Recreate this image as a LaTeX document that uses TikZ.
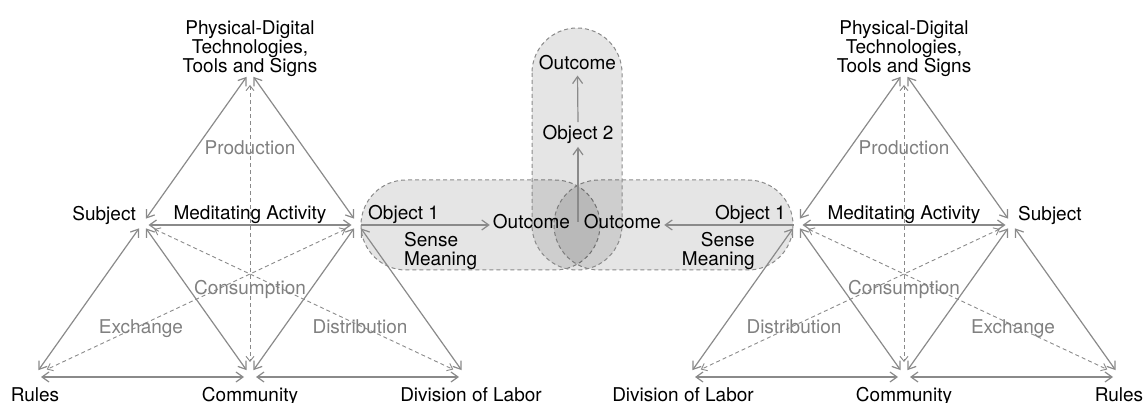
\documentclass[tikz,border=0pt]{standalone}
\usepackage{fontspec}
\setmainfont{TeX Gyre Heros}
\usetikzlibrary{arrows.meta}
\definecolor{lc}{RGB}{138,138,138}
\definecolor{tc}{RGB}{128,128,128}
\begin{document}
\begin{tikzpicture}[x=1pt,y=-1pt,
  font=\fontsize{19}{19}\selectfont,
  bb/.tip={Straight Barb[length=7pt,width=10pt]},
  sb/.tip={Straight Barb[length=5pt,width=8pt]},
  sol/.style={draw=lc,line width=1.2pt,bb-bb,shorten <=6pt,shorten >=6pt},
  dsh/.style={draw=lc,line width=0.9pt,dash pattern=on 4pt off 3pt,sb-sb,shorten <=13pt,shorten >=13pt},
  mid/.style={draw=lc,line width=1.2pt,-bb},
  blob/.style={fill=black,fill opacity=0.1,draw=lc,draw opacity=1,line width=1pt,dash pattern=on 4pt off 3pt,rounded corners=45pt},
  lab/.style={inner sep=0pt,text=black},
  glab/.style={inner sep=0pt,text=tc},
  olab/.style={inner sep=3pt,text=black}]
\useasboundingbox (0,0) rectangle (1146,403);

% shaded regions
\path[blob] (361,180) rectangle (600,270);
\path[blob] (554,180) rectangle (793,270);
\path[blob] (532,28) rectangle (622,270);

% left triangle vertices
\coordinate (T1) at (250,72);
\coordinate (R1) at (35,375);
\coordinate (D1) at (465,375);
\coordinate (S1) at (142.5,223.5);
\coordinate (O1) at (357.5,223.5);
\coordinate (C1) at (250,375);
% right triangle vertices
\coordinate (T2) at (904,72);
\coordinate (R2) at (1119,375);
\coordinate (D2) at (689,375);
\coordinate (S2) at (1011.5,223.5);
\coordinate (O2) at (796.5,223.5);
\coordinate (C2) at (904,375);

% left triangle lines
\draw[sol] (S1) -- (T1);
\draw[sol] (T1) -- (O1);
\draw[sol] ([yshift=-1.5pt]S1) -- ([yshift=-1.5pt]O1);
\draw[sol] (S1) -- (R1);
\draw[sol] (S1) -- (C1);
\draw[sol] (O1) -- (C1);
\draw[sol] (O1) -- (D1);
\draw[sol] ([yshift=-2pt]R1) -- ([yshift=-2pt]C1);
\draw[sol] ([yshift=-2pt]C1) -- ([yshift=-2pt]D1);
\draw[dsh] (T1) -- (C1);
\draw[dsh] (S1) -- (D1);
\draw[dsh] (O1) -- (R1);

% right triangle lines
\draw[sol] (S2) -- (T2);
\draw[sol] (T2) -- (O2);
\draw[sol] ([yshift=-1.5pt]S2) -- ([yshift=-1.5pt]O2);
\draw[sol] (S2) -- (R2);
\draw[sol] (S2) -- (C2);
\draw[sol] (O2) -- (C2);
\draw[sol] (O2) -- (D2);
\draw[sol] ([yshift=-2pt]R2) -- ([yshift=-2pt]C2);
\draw[sol] ([yshift=-2pt]C2) -- ([yshift=-2pt]D2);
\draw[dsh] (T2) -- (C2);
\draw[dsh] (S2) -- (D2);
\draw[dsh] (O2) -- (R2);

% left labels
\node[lab,anchor=base east] (subj1) at (136,220.5) {Subject};
\node[lab,anchor=base] (med1) at (250,220) {Meditating Activity};
\node[lab,anchor=north,align=center] (tools1) at (250,20) {Physical-Digital\\Technologies,\\Tools and Signs};
\node[glab,anchor=base] (prod1) at (250,155) {Production};
\node[glab,anchor=base] (cons1) at (250,294.5) {Consumption};
\node[glab,anchor=base] (exch1) at (141,333.5) {Exchange};
\node[glab,anchor=base] (dist1) at (360,333.5) {Distribution};
\node[lab,anchor=base] (rules1) at (35,401.5) {Rules};
\node[lab,anchor=base] (comm1) at (250,401.5) {Community};
\node[lab,anchor=base] (div1) at (471,401.5) {Division of Labor};

% right labels
\node[lab,anchor=base west] (subj2) at (1018,220.5) {Subject};
\node[lab,anchor=base] (med2) at (904,220) {Meditating Activity};
\node[lab,anchor=north,align=center] (tools2) at (904,20) {Physical-Digital\\Technologies,\\Tools and Signs};
\node[glab,anchor=base] (prod2) at (904,155) {Production};
\node[glab,anchor=base] (cons2) at (904,294.5) {Consumption};
\node[glab,anchor=base] (exch2) at (1013,333.5) {Exchange};
\node[glab,anchor=base] (dist2) at (794,333.5) {Distribution};
\node[lab,anchor=base] (rules2) at (1119,401.5) {Rules};
\node[lab,anchor=base] (comm2) at (904,401.5) {Community};
\node[lab,anchor=base] (div2) at (683,401.5) {Division of Labor};

% centre labels
\node[lab,anchor=base west] (obj1L) at (368,219.6) {Object 1};
\node[lab,anchor=north west,align=left] (smL) at (404,232.5) {Sense\\Meaning};
\node[lab,anchor=base east] (obj1R) at (786,219.6) {Object 1};
\node[lab,anchor=north east,align=right] (smR) at (755,232.5) {Sense\\Meaning};
\node[olab,anchor=base] (outL) at (531.5,229) {Outcome};
\node[olab,anchor=base] (outR) at (622.5,229) {Outcome};
\node[olab,anchor=base] (obj2) at (578,139.6) {Object 2};
\node[olab,anchor=base] (outT) at (577.5,70) {Outcome};
\coordinate (lens) at (578,222);

% centre arrows
\draw[mid,shorten <=3pt] ([yshift=-1.5pt]O1) -- ([yshift=-1.5pt]O1 -| outL.west);
\draw[mid,shorten <=3pt] ([yshift=-1.5pt]O2) -- ([yshift=-1.5pt]O2 -| outR.east);
\draw[mid] (lens) -- (obj2.south);
\draw[mid,shorten >=2pt] (obj2.north) -- (outT.south);
\end{tikzpicture}
\end{document}
